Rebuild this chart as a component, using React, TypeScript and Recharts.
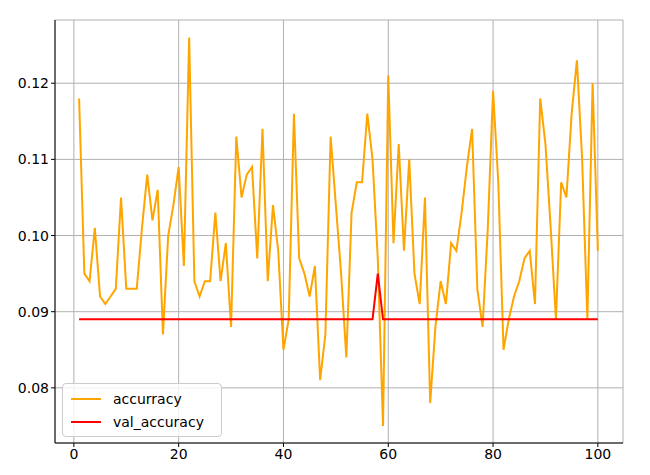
import React from "react";
import { LineChart, Line, XAxis, YAxis, CartesianGrid } from "recharts";

const epochs = Array.from({ length: 100 }, (_, i) => i + 1);
const accurracy = [
  0.118, 0.095, 0.094, 0.101, 0.092, 0.091, 0.092, 0.093, 0.105, 0.093,
  0.093, 0.093, 0.101, 0.108, 0.102, 0.106, 0.087, 0.100, 0.104, 0.109,
  0.096, 0.126, 0.094, 0.092, 0.094, 0.094, 0.103, 0.094, 0.099, 0.088,
  0.113, 0.105, 0.108, 0.109, 0.097, 0.114, 0.094, 0.104, 0.098, 0.085,
  0.089, 0.116, 0.097, 0.095, 0.092, 0.096, 0.081, 0.087, 0.113, 0.104,
  0.095, 0.084, 0.103, 0.107, 0.107, 0.116, 0.110, 0.097, 0.075, 0.121,
  0.099, 0.112, 0.098, 0.110, 0.095, 0.091, 0.105, 0.078, 0.088, 0.094,
  0.091, 0.099, 0.098, 0.103, 0.109, 0.114, 0.093, 0.088, 0.101, 0.119,
  0.107, 0.085, 0.089, 0.092, 0.094, 0.097, 0.098, 0.091, 0.118, 0.112,
  0.101, 0.089, 0.107, 0.105, 0.116, 0.123, 0.110, 0.089, 0.120, 0.098,
];
const valAccuracy = epochs.map((e) => (e === 58 ? 0.095 : 0.089));
const xTicks = [0, 20, 40, 60, 80, 100];
const yTicks = [0.08, 0.09, 0.1, 0.11, 0.12];
const series = [
  { key: "acc", name: "accurracy", color: "#FFA500" },
  { key: "val", name: "val_accuracy", color: "#FF0000" },
];

const data = epochs.map((e, i) => ({ epoch: e, acc: accurracy[i], val: valAccuracy[i] }));

const font = "DejaVu Sans, sans-serif";

export default function App() {
  return (
    <div style={{ position: "absolute", left: 0, top: 0, width: 650, height: 475, background: "#fff" }}>
      <LineChart width={650} height={475} data={data} margin={{ top: 20, right: 27, bottom: 0, left: 0 }}>
        <CartesianGrid stroke="#b0b0b0" strokeWidth={1} />
        <XAxis
          dataKey="epoch"
          type="number"
          domain={[-3.6, 104.8]}
          ticks={xTicks}
          height={32}
          stroke="#000"
          tick={{ fill: "#000", fontSize: 14, fontFamily: font }}
          tickSize={4}
        />
        <XAxis xAxisId="top" orientation="top" dataKey="epoch" type="number" domain={[-3.6, 104.8]} tick={false} tickLine={false} height={0} stroke="#000" />
        <YAxis
          type="number"
          domain={[0.07276, 0.1283]}
          ticks={yTicks}
          width={55}
          stroke="#000"
          tickFormatter={(v: number) => v.toFixed(2)}
          tick={{ fill: "#000", fontSize: 14, fontFamily: font }}
          tickSize={4}
          allowDataOverflow
        />
        <YAxis yAxisId="right" orientation="right" tick={false} tickLine={false} width={0} stroke="#000" />
        {series.map((s) => (
          <Line key={s.key} dataKey={s.key} name={s.name} stroke={s.color} strokeWidth={2} dot={false} isAnimationActive={false} />
        ))}
      </LineChart>
      <div
        style={{
          position: "absolute",
          left: 62,
          top: 383,
          border: "1px solid #ccc",
          borderRadius: 4,
          background: "rgba(255,255,255,0.8)",
          padding: "3px 8px",
          fontFamily: font,
          fontSize: 14,
          color: "#000",
          width: 142,
        }}
      >
        {series.map((s) => (
          <div key={s.key} style={{ display: "flex", alignItems: "center", height: 23 }}>
            <div style={{ width: 30, height: 2, background: s.color, marginRight: 12 }} />
            {s.name}
          </div>
        ))}
      </div>
    </div>
  );
}
